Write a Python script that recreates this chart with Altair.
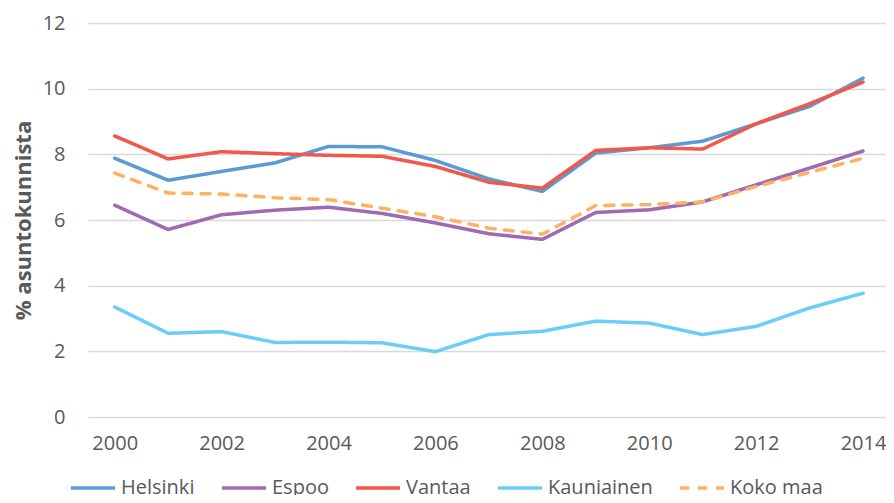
import altair as alt
import pandas as pd

years = list(range(2000, 2015))
series_names = ["Helsinki", "Espoo", "Vantaa", "Kauniainen", "Koko maa"]
helsinki = [7.88, 7.21, 7.48, 7.74, 8.24, 8.23, 7.81, 7.25, 6.87, 8.04, 8.20, 8.40, 8.93, 9.46, 10.32]
espoo = [6.45, 5.71, 6.16, 6.30, 6.39, 6.20, 5.91, 5.58, 5.41, 6.23, 6.31, 6.55, 7.07, 7.58, 8.10]
vantaa = [8.56, 7.86, 8.08, 8.02, 7.97, 7.94, 7.63, 7.15, 6.97, 8.12, 8.20, 8.16, 8.93, 9.54, 10.20]
kauniainen = [3.35, 2.55, 2.60, 2.27, 2.28, 2.26, 1.99, 2.51, 2.61, 2.92, 2.86, 2.51, 2.76, 3.32, 3.77]
koko_maa = [7.43, 6.82, 6.79, 6.68, 6.62, 6.36, 6.10, 5.75, 5.57, 6.44, 6.47, 6.55, 7.02, 7.45, 7.88]
colors = ["#5B9BD5", "#9E6BB3", "#F1574B", "#6CCEF6", "#FFB062"]
dashes = [[1, 0], [1, 0], [1, 0], [1, 0], [9, 9]]

rows = []
for name, vals in zip(series_names, [helsinki, espoo, vantaa, kauniainen, koko_maa]):
    for y, v in zip(years, vals):
        rows.append({"Vuosi": y, "Arvo": v, "Sarja": name})
df = pd.DataFrame(rows)

FONT = "Open Sans"
GRAY = "#595959"

legend = alt.Legend(
    title=None, orient="none", direction="horizontal",
    legendX=-19, legendY=441, symbolType="stroke", symbolSize=1936,
    symbolStrokeWidth=3.5, labelFontSize=20, labelFont=FONT, labelColor=GRAY,
    labelOffset=4, columnPadding=20, padding=0, labelLimit=300,
)

chart = alt.Chart(df).mark_line(strokeWidth=3.5, strokeCap="round", strokeJoin="round").encode(
    x=alt.X("Vuosi:Q", scale=alt.Scale(domain=[1999.5, 2014.43], nice=False, zero=False),
            axis=alt.Axis(values=list(range(2000, 2015, 2)), format="d", title=None, grid=False,
                          domain=False, ticks=False, labelFontSize=20, labelFont=FONT,
                          labelColor=GRAY, labelPadding=16)),
    y=alt.Y("Arvo:Q", scale=alt.Scale(domain=[0, 12], nice=False),
            axis=alt.Axis(values=[0, 2, 4, 6, 8, 10, 12], title="% asuntokunnista", domain=False,
                          ticks=False, gridColor="#D9D9D9", gridWidth=1.3, labelFontSize=20,
                          labelFont=FONT, labelColor=GRAY, labelPadding=23,
                          titleFontSize=22, titleFont=FONT, titleFontWeight="bold",
                          titleColor=GRAY, titleX=-65, titleY=197, titleAngle=-90,
                          titleAlign="center", titleBaseline="middle")),
    color=alt.Color("Sarja:N", scale=alt.Scale(domain=series_names, range=colors), legend=legend),
    strokeDash=alt.StrokeDash("Sarja:N", scale=alt.Scale(domain=series_names, range=dashes), legend=legend),
).properties(
    width=798, height=394,
    autosize=alt.AutoSizeParams(type="none"),
    padding={"left": 80, "top": 15, "right": 0, "bottom": 78},
    background="white",
    view=alt.ViewBackground(stroke="transparent", strokeWidth=0),
)

chart.save("out.html", embed_options={"renderer": "svg", "actions": False})
